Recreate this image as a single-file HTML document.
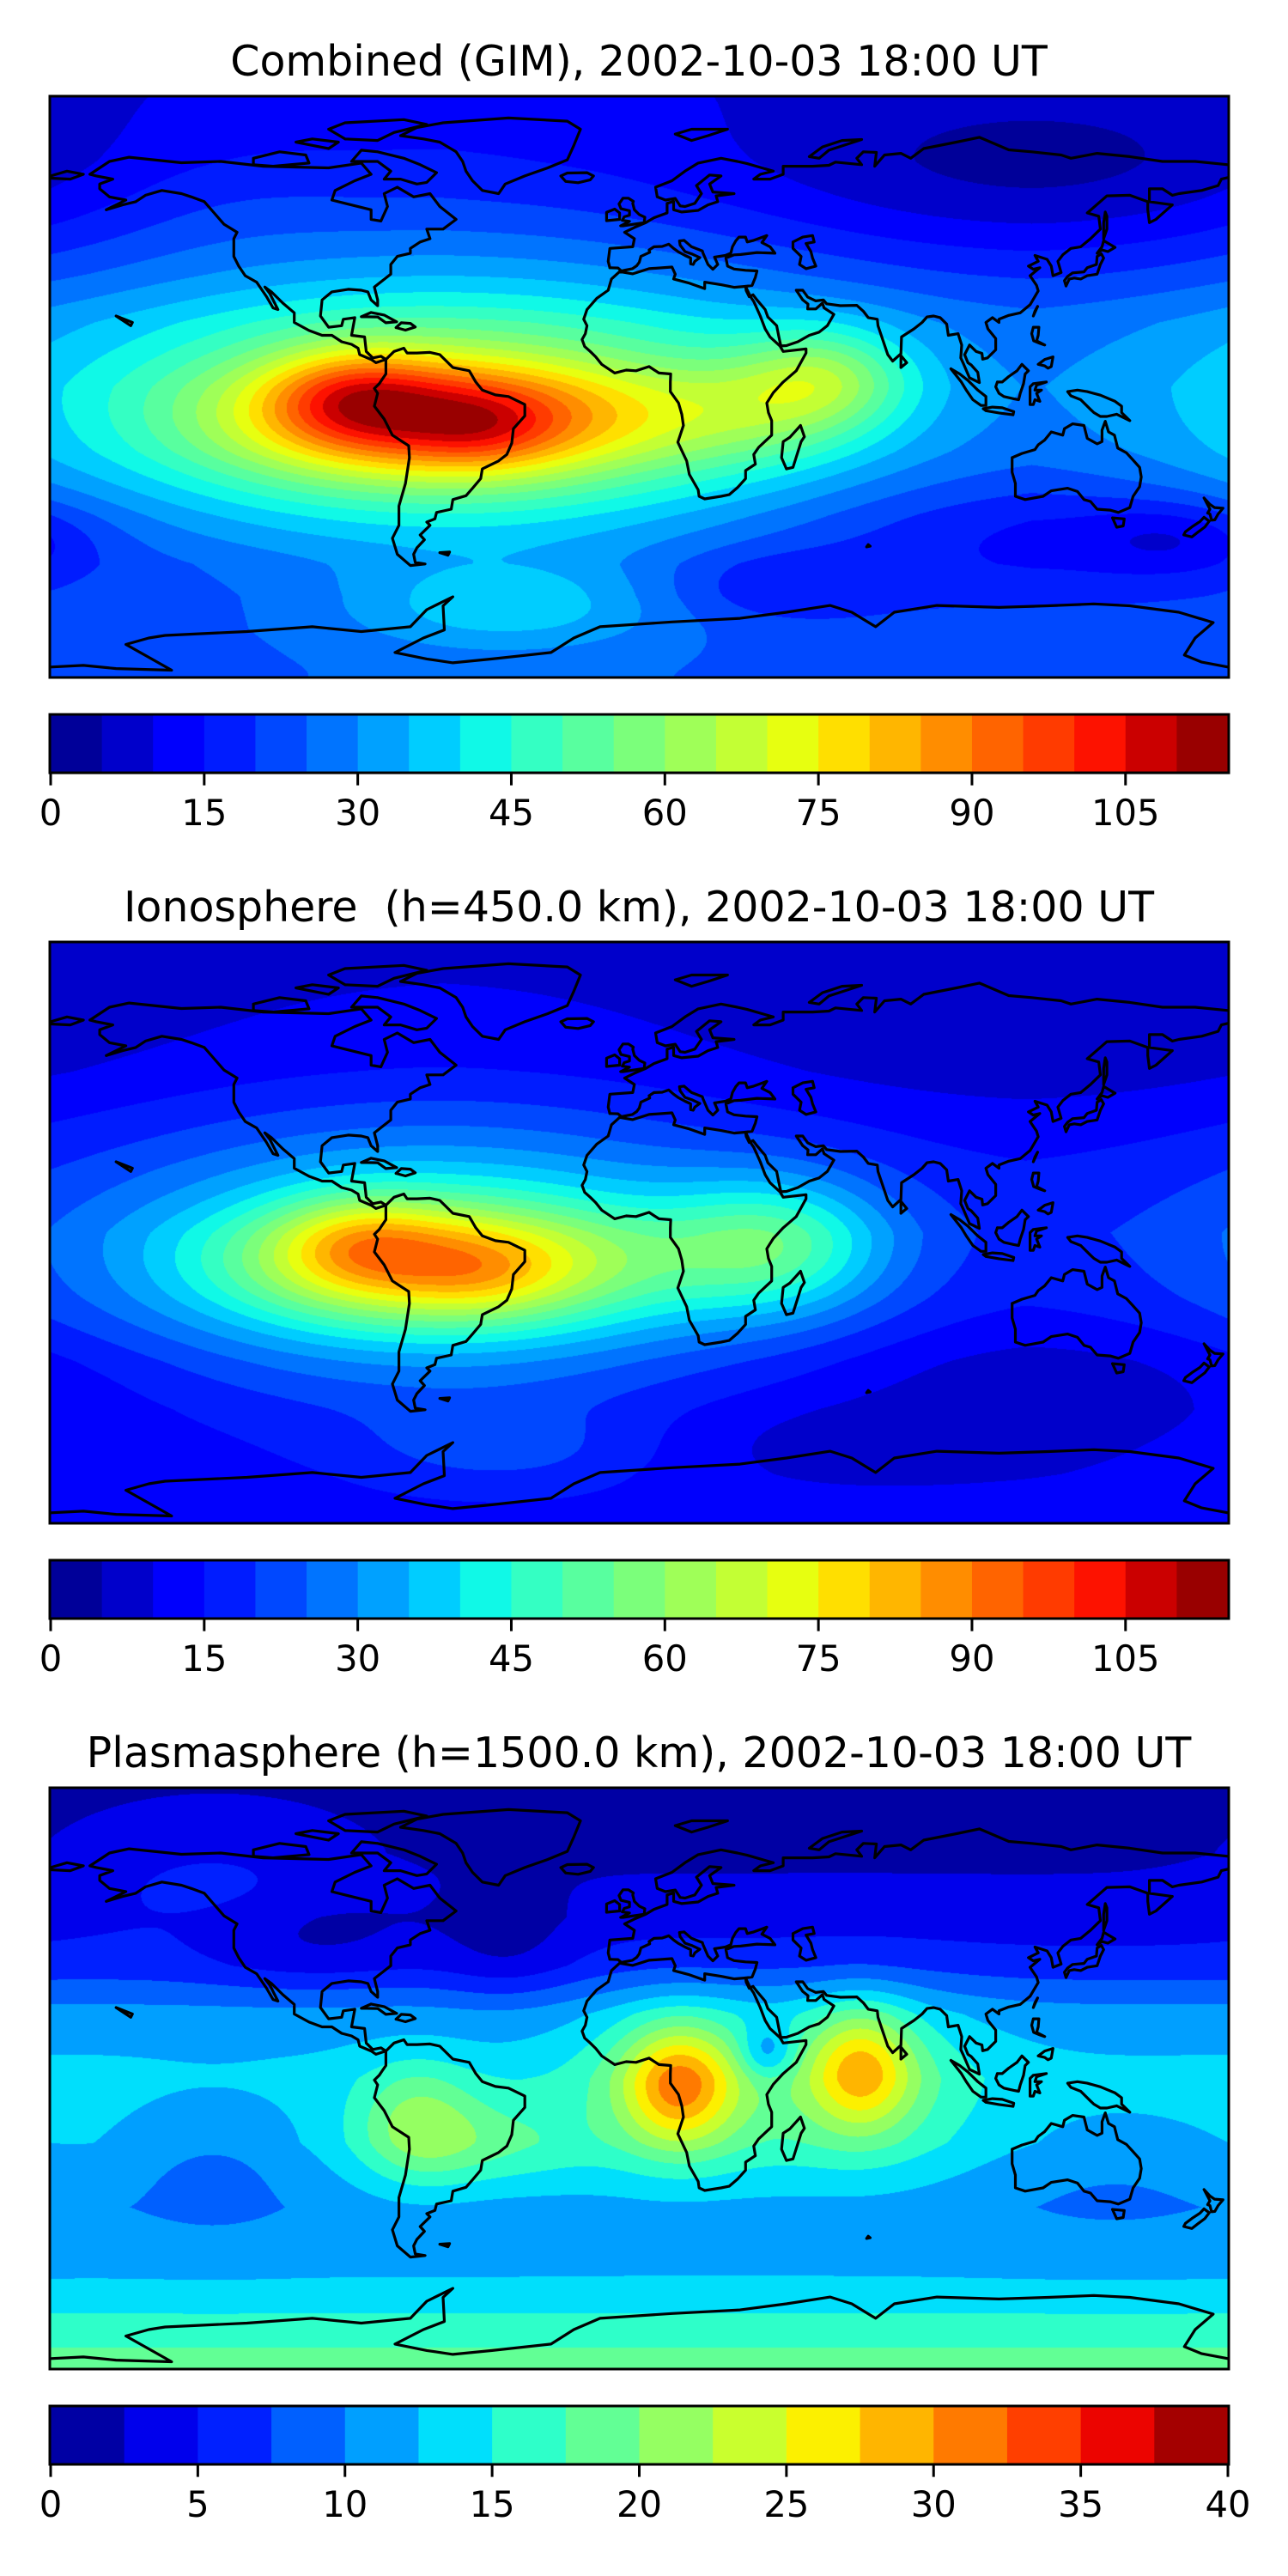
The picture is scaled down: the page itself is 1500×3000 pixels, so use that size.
<!DOCTYPE html>
<html><head><meta charset="utf-8">
<style>
html,body{margin:0;padding:0;background:#fff;}
#root{position:relative;width:1500px;height:3000px;overflow:hidden;background:#fff;}
canvas{position:absolute;}
svg{position:absolute;left:0;top:0;}
</style></head>
<body>
<div id="root">
<canvas id="c0" width="1371" height="675" style="left:59px;top:113px"></canvas>
<canvas id="c1" width="1371" height="675" style="left:59px;top:1098px"></canvas>
<canvas id="c2" width="1371" height="675" style="left:59px;top:2083px"></canvas>
<svg id="ov" width="1500" height="3000"></svg>
</div>
<script>
// ---- panel data ----
const titles = ["Combined (GIM), 2002-10-03 18:00 UT","Ionosphere  (h=450.0 km), 2002-10-03 18:00 UT","Plasmasphere (h=1500.0 km), 2002-10-03 18:00 UT"];
const levelMax = [115, 115, 40];
const levelStep = [5, 5, 2.5];
const tickLabels0 = [0,15,30,45,60,75,90,105];
const tickLabels1 = [0,15,30,45,60,75,90,105];
const tickLabels2 = [0,5,10,15,20,25,30,35,40];
// latitude base profiles [lat, value]
const profLat = [90,70,50,35,20,0,-20,-40,-55,-65,-75,-90];
const prof0 = [12,15,19,22,26,27,25,21,19,20,22,24];
const prof1 = [9,10,11,13,15,17,15,12,11,11,11,12];
const prof2 = [2,2,3.5,6,11,13.5,13.5,11,11.5,13,15.5,19];
// blobs: lon, lat, amplitude, sigmaLon, sigmaLat
const blobs0 = [[-60,-8,35,80,30],[-60,-10,45,45,13],[-88,-2,20,18,10],[-48,-13,8,14,8],[57,3,22,18,11],[35,-8,14,25,12],[-40,-68,14,35,10],[120,65,-12,70,20],[-130,60,3,30,15],[120,-45,-7,50,12],[165,-47,-9,20,8],[42,-62,-7,25,8]];
const blobs1 = [[-62,-8,30,72,30],[-60,-10,40,45,13],[-86,-2,16,18,10],[-48,-13,5,14,8],[42,-4,26,24,15],[-40,-68,8,35,10],[120,65,-5,70,20],[130,-45,-5,50,12],[60,-65,-4,50,10]];
const blobs2 = [[12,-2,13,12,13],[68,3,11,11,13],[12,-2,5,25,20],[68,0,5,25,20],[-68,-14,7,13,13],[-45,-20,4,20,10],[-40,40,-3,15,12],[-100,42,-3,25,10],[39,8,-6,6,6],[-130,-25,-3,20,15],[145,-28,-2,30,15],[-130,62,3,30,14]];

// ---- coastlines (lon,lat) ----
const coasts = [
[[-168,66],[-162,70],[-156,71.3],[-140,69.6],[-128,70],[-115,68.5],[-95,68],[-85,69.5],[-82,66],[-87,64],[-93,61],[-94,58],[-90,57],[-82,55],[-82,52],[-79,51.5],[-77,56],[-78,60],[-74,62],[-69,59],[-64,60],[-61,56],[-56,52],[-60,49],[-65,49],[-64,46],[-67,45],[-70,43],[-70,41.5],[-74,40.5],[-76,38],[-76,35],[-81,31],[-80,27],[-80,25.2],[-82,27],[-83,29.5],[-85,30],[-89,30.3],[-94,29.5],[-97,27],[-97.5,22],[-95,18.5],[-91,19],[-90.5,21],[-87,21.5],[-88,16],[-84,15.5],[-83.5,11],[-81.5,9],[-79,9.5],[-77.5,8.5],[-79,8],[-80.5,7.5],[-82,8.5],[-85.5,10],[-86,12],[-88,13.2],[-91,14],[-94,16],[-97,16],[-101,17.5],[-105.5,20],[-105.5,23],[-109,26],[-112.5,29.5],[-114.5,31],[-113,29],[-110.5,24],[-112,24.5],[-114,28],[-117,32.5],[-120.5,34.5],[-122.5,37.5],[-124,40.5],[-124,46],[-123,48],[-127,50.5],[-130,54],[-133,57.5],[-137,59],[-140,60],[-146,61],[-151,59.5],[-154,57.5],[-158,56.5],[-163,55],[-157,58],[-162,59],[-165,61.5],[-165,63],[-161,64.5],[-166,65.5],[-168,66]],
[[-73,78],[-68,80.5],[-60,82],[-40,83.5],[-22,82.5],[-18,80],[-20,75],[-22,70.5],[-28,68],[-35,65.5],[-41,63],[-43,60],[-48,61],[-51,64],[-53,67],[-54,70],[-56,73],[-61,76],[-66,77],[-73,78]],
[[-80,73],[-72,71],[-67,69],[-62,66.5],[-65,63.5],[-68,63],[-73,64.5],[-78,64.5],[-76,67],[-80,70],[-88,70],[-85,73.5],[-80,73]],
[[-118,71],[-110,73],[-102,72],[-101,69.5],[-112,68.5],[-118,69],[-118,71]],
[[-90,77],[-80,76.5],[-75,79],[-65,81.5],[-72,83],[-90,82],[-95,80],[-90,77]],
[[-100,75],[-95,74],[-92,76],[-100,77],[-105,76],[-100,75]],
[[-77.5,8.5],[-75,11],[-72,12],[-71,10.5],[-68,10.5],[-64,10.7],[-61,10],[-57,6],[-52,5],[-50,1.5],[-48,-1],[-44,-2.5],[-40,-3],[-35,-5.5],[-35,-9],[-38.5,-13],[-39,-17.5],[-40.5,-21],[-43,-23],[-48,-25.5],[-48.5,-28.5],[-51,-31.5],[-53,-33.8],[-57,-35],[-57.5,-38],[-62,-39],[-62.5,-41],[-65,-42],[-64,-43],[-67,-46],[-65.7,-47.5],[-68,-50],[-69,-52],[-68.5,-54.5],[-65.5,-55],[-70,-55.5],[-74,-52],[-75.5,-47],[-73.5,-43],[-73.5,-37],[-71.5,-30],[-70.3,-22],[-70.5,-18.3],[-75.5,-15],[-78,-10],[-81,-6],[-80,-2],[-81,-0.5],[-79.5,1],[-78.5,2.5],[-77.5,4],[-77.5,6.5],[-77.5,8.5]],
[[-17,21],[-16,24],[-13,27.5],[-9.5,30],[-8.5,33.5],[-6,35.8],[-2,35.1],[3,36.7],[10,37.2],[11,35],[10.5,33.5],[15,32.3],[20,30.5],[20,32.5],[25,31.7],[29,30.9],[32.5,31.2],[34,28],[35,26.5],[37,22],[38.5,18],[40,15.5],[43,12.7],[44,11],[51,11.8],[51,10.5],[48,5],[44,1.5],[41,-1.8],[39,-5],[39.5,-8],[40.5,-10.5],[40.5,-15],[36.5,-18.8],[35,-21],[35.5,-24],[32.5,-26],[32.5,-28.5],[30,-31.3],[27.5,-33.5],[25,-34],[20,-34.8],[18.3,-34],[18,-32],[15.3,-27.2],[14.5,-23],[11.8,-17.2],[13.5,-12],[13,-8.5],[12,-5],[9.5,-1.5],[9.5,1.5],[9.6,4],[6,4.3],[3,6.3],[-1,5],[-4,5.2],[-7.5,4.3],[-11.5,7],[-13.3,9.3],[-15,11],[-16.7,12.5],[-17.5,14.7],[-16.5,16.5],[-16,19],[-17,21]],
[[-9,37],[-9.5,39],[-9,43],[-2,43.5],[-1.5,46],[-4.5,48],[-1.5,49.5],[2,51],[4.5,52.5],[8.5,54],[8.5,57],[10.5,57.6],[10.5,55],[13,54.3],[18,54.8],[21,56.5],[24,57.5],[23.5,59.3],[29,60],[22.5,60.5],[21.5,63],[25,65.5],[21.5,65.8],[17.5,62.5],[19,60],[17,57],[14,56],[12.5,56.2],[11,58.5],[8,58],[5.5,59],[5,62],[10,64],[14,67],[18,69.5],[25,71],[30,70],[33,69.3],[41,67],[37,66],[35,64.5],[40,64.5],[44,66],[44,68.5],[53,68.5],[58,68.8],[60,69.8],[68,69],[66.5,71],[68.5,73],[72.5,72.8],[72,68.5],[75,72],[80,72.5],[83,71],[87,74],[97,76],[104,77.5],[113,73.6],[120,73],[129,72],[132,71],[140,72.5],[150,71.5],[160,70],[170,70],[180,69]],
[[180,65],[178,64.5],[177,62.5],[172,61],[165,60],[163,59.5],[160,61.5],[156,61.5],[156,57.5],[163,56.5],[158,52],[156,51],[155.5,55],[155.5,57.5],[150,59.5],[143,59.3],[137,54],[140.5,53],[141,49],[138,46],[135,43.5],[132,43],[129.5,41],[128,39],[129,35.5],[126.5,34.5],[126,37.5],[124.7,39.6],[121,40.8],[122,39],[119,37.5],[120.5,36.5],[122.5,37],[119.5,34.5],[121.5,31.5],[122,29.8],[119.5,25.5],[116.5,23],[113,22.2],[110,21],[110,20],[108,21.5],[106,20],[106.6,18],[109,15],[109,11.5],[106.5,9],[105,8.6],[104.8,10.4],[103,11],[101,13],[99.5,10],[100.5,7.5],[101.5,6.8],[103.5,4.5],[104,1.3],[101,2.8],[99,7.5],[98.3,9],[98.6,13],[97.5,16.5],[94.5,16],[94,19.5],[92,21.5],[90,22],[88,21.7],[86.5,20],[84,18],[80.2,15.5],[80,10.3],[77.5,8],[76,10],[74.5,14.5],[73,19],[72.8,21],[70,21.5],[68.5,23.5],[66.5,25.3],[61.5,25.2],[57.3,25.8],[56.3,27],[54,26.7],[51.5,27.9],[50,30],[48,30],[50,27],[51.6,25.7],[51.5,24.2],[54,24.2],[56,26],[56.5,24.5],[59.5,22.5],[57.5,19],[55,17],[52,16],[48.5,14],[45,12.8],[43.3,12.7],[42.7,15.5],[42,19],[39.3,21.7],[38.5,24],[36,27],[34.8,28.6],[33.6,28],[32.7,29.9],[32.5,31.2],[34.5,31.5],[35.5,34],[36,36],[32.5,36.2],[29,36.6],[27,37.5],[26.5,40],[29,41],[31,41.1],[36,41.7],[41.5,41.5],[40,43.5],[37.5,44.8],[39,47],[35,45.5],[33,45],[32.5,46.5],[30.5,46.5],[29.5,45.3],[28.5,43.5],[28,41.5],[26.3,40.8],[23,40.3],[24,38],[22.5,36.5],[21,38],[19.5,41.5],[19.3,42.2],[16,43.5],[13.7,45.5],[12.3,45.3],[12.5,44],[14,42],[16,41.3],[18.5,40.1],[17,39],[16.5,38],[15.7,38.2],[15.7,40],[14,40.8],[12,41.9],[10.5,43],[9,44.3],[7,43.6],[4.5,43.5],[3,42.5],[3.2,41.8],[0.5,40.5],[0,38.7],[-0.8,37.6],[-2.1,36.7],[-5.5,36],[-6.5,36.9],[-9,37]],
[[-180,65.5],[-175,67],[-170,66],[-174,64.5],[-180,64.8]],
[[47,45],[50,46.5],[53,47],[53.5,45],[51,44.5],[52.5,42],[53,40],[54,37.5],[51,36.7],[49,38],[49.5,40.5],[47,43],[47,45]],
[[114,-22],[114,-26.5],[115,-30],[115,-34],[118,-35],[123.5,-34],[126,-32.3],[131,-31.5],[134,-32.5],[136,-35],[138,-35.6],[140,-38],[144,-38.3],[146.5,-39],[150,-37.5],[151,-34],[153,-31],[153.5,-28],[153,-25],[150.8,-22.5],[149,-20.5],[146.3,-19],[145.3,-15],[143.5,-14],[142.5,-10.7],[141.5,-13.5],[141.5,-17],[140,-17.7],[137,-16],[136,-12],[132.5,-11.5],[130,-13],[129.5,-15],[126,-14],[124,-16.5],[122,-18],[121,-19.5],[117,-20.7],[114,-22]],
[[144.7,-40.7],[148.3,-41],[148,-43.2],[146,-43.6],[144.7,-40.7]],
[[172.7,-34.5],[174.5,-36.5],[175.9,-37.5],[178.5,-37.7],[177,-39.5],[176,-41.3],[175,-41.4],[174.5,-39.5],[173.8,-39.2],[174.5,-38],[172.7,-34.5]],
[[172.7,-40.5],[174.3,-41.7],[173,-43.5],[171,-45],[169,-46.6],[166.5,-46],[167,-45],[169,-43.5],[171.5,-41.8],[172.7,-40.5]],
[[49.3,-12],[50.5,-15.5],[49.5,-17],[47,-25],[45,-25.5],[43.5,-22],[44,-17],[46,-15.7],[48,-13.5],[49.3,-12]],
[[-5,50],[1.5,51],[1.7,52.7],[0,53.5],[-1.5,55],[-2,57],[-1.8,57.6],[-3.3,58.6],[-5,58.6],[-6.2,56.8],[-5.6,55.3],[-3,54.7],[-3,53.3],[-4.6,52.8],[-5.2,51.7],[-3,51.4],[-5.7,50],[-5,50]],
[[-6,52],[-6,54],[-7.5,55.2],[-10,54.2],[-10,51.6],[-6,52]],
[[130.5,31.3],[131.5,33.5],[133,33.8],[135,33.5],[137,34.5],[140,35],[141,38],[142,40],[141.3,41.3],[140,40.5],[139.8,38],[137,37],[136,35.7],[132.5,35.4],[131,34.3],[130,33],[130.5,31.3]],
[[140,41.5],[141.5,42.5],[143.3,42],[145.5,43.3],[142,45.4],[141.5,43.5],[140,41.5]],
[[142,46],[143,49],[143,53],[142.5,54.3],[142,51],[142,46]],
[[109.5,1.5],[111,1.5],[113,3.2],[115.5,5],[117,7],[119,5],[118,4],[117.5,1],[116.5,-2],[116,-4],[114.5,-3.7],[111.5,-3],[110,-2],[109,0],[109.5,1.5]],
[[95.3,5.6],[98,4],[100.5,2],[103.5,-1],[106,-3],[106,-5.8],[104.5,-5.8],[102,-4],[100,-1],[98.5,1.5],[95.3,5.6]],
[[105.2,-6.8],[108,-6.3],[111,-6.5],[114.5,-7.7],[114.3,-8.7],[110,-8.1],[106,-7.4],[105.2,-6.8]],
[[119.5,-5.5],[119.5,0],[120.5,1],[124.5,1.5],[121.5,0.5],[121,-1],[123,-1],[121.5,-2],[122.5,-4.5],[121,-4],[120.5,-5.5],[119.5,-5.5]],
[[131,-1.5],[134,-1],[137,-1.5],[141,-2.6],[145.5,-4.5],[147.5,-6],[147.5,-8],[150,-10.5],[146,-8.5],[143,-9.2],[141,-9.2],[139,-8],[138,-7],[135,-4],[132,-2.8],[131,-1.5]],
[[120.5,18.5],[122.2,18.5],[122,16],[121.5,14.3],[124,13],[122.5,13.5],[120.6,14.3],[120,16.5],[120.5,18.5]],
[[122,7],[124,8.5],[126.5,9.3],[126,6.3],[125,5.8],[124,6.5],[122,7]],
[[120.5,22],[121.8,25],[121,23.5],[120.5,22]],
[[80,6],[81.8,7.5],[80,9.7],[80,6]],
[[-24,65.5],[-22,66.4],[-16,66.5],[-14,65.5],[-15,64.3],[-18.7,63.4],[-22.5,63.8],[-24,65.5]],
[[-85,21.8],[-82,23.1],[-78,22.3],[-74.2,20.2],[-77.5,19.9],[-80,21.7],[-85,21.8]],
[[-74.4,18.4],[-72.8,19.9],[-70,19.7],[-68.5,18.6],[-71.5,17.6],[-74.4,18.4]],
[[11,78.5],[16,80],[22,80],[27,80],[21,78],[16,76.5],[11,78.5]],
[[52,71.5],[56,74.5],[62,76.5],[68,76.8],[58,73.5],[55,71],[52,71.5]],
[[-160,22],[-155,20],[-155.5,19],[-160,22]],
[[-61,-51.5],[-58,-51.3],[-58.5,-52.3],[-61,-51.5]],
[[70,-49],[70.6,-49.5],[69.5,-49.7],[70,-49]],
[[-180,-87],[-170,-86.5],[-160,-87.5],[-143,-88],[-150,-84],[-157,-80],[-150,-78],[-145,-77.2],[-120,-76],[-100,-74.5],[-85,-76],[-70,-74.5],[-65,-69.2],[-57,-65.2],[-60,-68],[-59.6,-75.5],[-66,-78],[-74.7,-82.5],[-65,-84.5],[-57,-85.7],[-45,-84.5],[-27,-82.5],[-20,-78],[-12,-74.5],[10,-73],[30.8,-71.9],[45,-70],[58.4,-67.9],[65,-70],[72.3,-74.5],[78,-70],[91,-67.9],[110,-68.5],[125,-68],[139,-67.4],[150,-68],[165,-70],[175.5,-73.2],[170,-78],[166.7,-83.3],[172,-85.5],[180,-87]]
];

const NS = "http://www.w3.org/2000/svg";
const ov = document.getElementById('ov');
const MX0 = 59, MW = 1371, MH = 675;
const panelTop = [113, 1098, 2083];
const ticksAll = [tickLabels0, tickLabels1, tickLabels2];
const profs = [prof0, prof1, prof2];
const blobsAll = [blobs0, blobs1, blobs2];

function seg(x, xs, ys){
  for(let i=0;i<xs.length-1;i++){
    const a=xs[i], b=xs[i+1];
    if((x<=a && x>=b)||(x>=a&&x<=b)){ const t=(x-a)/(b-a||1); return ys[i]+t*(ys[i+1]-ys[i]); }
  }
  return ys[ys.length-1];
}
function jet(t){
  const r = seg(t,[0,0.35,0.66,0.89,1],[0,0,1,1,0.5]);
  const g = seg(t,[0,0.125,0.375,0.64,0.91,1],[0,0,1,1,0,0]);
  const b = seg(t,[0,0.11,0.34,0.65,1],[0.5,1,1,0,0]);
  return [Math.round(r*255),Math.round(g*255),Math.round(b*255)];
}
function lonX(lon){ return MX0 + (lon+180)/360*MW; }
function latY(top, lat){ return top + (90-lat)/180*MH; }

function el(tag, attrs, parent){
  const e = document.createElementNS(NS, tag);
  for(const k in attrs) e.setAttribute(k, attrs[k]);
  (parent||ov).appendChild(e); return e;
}

for(let p=0;p<3;p++){
  const top = panelTop[p];
  const nb = Math.round(levelMax[p]/levelStep[p]);
  const cols = []; for(let i=0;i<nb;i++) cols.push(jet((i+0.5)/nb));
  const cv = document.getElementById('c'+p);
  const ctx = cv.getContext('2d');
  const img = ctx.createImageData(MW, MH);
  const bl = blobsAll[p], pr = profs[p];
  for(let y=0;y<MH;y++){
    const lat = 90 - (y+0.5)/MH*180;
    const base = seg(lat, profLat, pr);
    for(let x=0;x<MW;x++){
      const lon = -180 + (x+0.5)/MW*360;
      let v = base;
      for(const b of bl){
        let dl = lon-b[0]; if(dl>180) dl-=360; if(dl<-180) dl+=360;
        const dx = dl/b[3], dy=(lat-b[1])/b[4];
        v += b[2]*Math.exp(-0.5*(dx*dx+dy*dy));
      }
      let k = Math.floor(v/levelStep[p]); if(k<0)k=0; if(k>nb-1)k=nb-1;
      const c = cols[k], o=(y*MW+x)*4;
      img.data[o]=c[0]; img.data[o+1]=c[1]; img.data[o+2]=c[2]; img.data[o+3]=255;
    }
  }
  ctx.putImageData(img,0,0);

  const t = el('text',{x:744,y:top-25,'text-anchor':'middle','font-family':'DejaVu Sans, Liberation Sans, sans-serif','font-size':49,fill:'#000',style:'white-space:pre'});
  
  
  t.textContent = titles[p];

  const g = el('g',{fill:'none',stroke:'#000','stroke-width':3.2,'stroke-linejoin':'round','stroke-linecap':'round'});
  
  
  for(const c of coasts){
    const pts = c.map(q=>lonX(q[0]).toFixed(1)+','+latY(top,q[1]).toFixed(1)).join(' ');
    const pl = el('polyline',{points:pts},g);
    
    
  }
  const fr = el('rect',{x:58,y:top-1,width:1373,height:677,fill:'none',stroke:'#000','stroke-width':3});
  
  

  const cbTop = top+719, cbH = 68;
  const cbg = el('g',{});
  
  
  for(let i=0;i<nb;i++){
    const c = cols[i];
    const r = el('rect',{x:(MX0+i/nb*MW).toFixed(2),y:cbTop,width:(MW/nb+0.6).toFixed(2),height:cbH,fill:'rgb('+c.join(',')+')'},cbg);
    
    
  }
  el('rect',{x:58,y:cbTop,width:1373,height:cbH,fill:'none',stroke:'#000','stroke-width':3},cbg);
  for(const tv of ticksAll[p]){
    const x = MX0 + tv/levelMax[p]*MW;
    el('line',{x1:x,x2:x,y1:cbTop+cbH,y2:cbTop+cbH+14.6,stroke:'#000','stroke-width':3},cbg);
    const tl = el('text',{x:x,y:cbTop+cbH+61,'text-anchor':'middle','font-family':'DejaVu Sans, Liberation Sans, sans-serif','font-size':41.7,fill:'#000'},cbg);
    
    
    tl.textContent = tv;
  }
}
</script>
</body></html>
